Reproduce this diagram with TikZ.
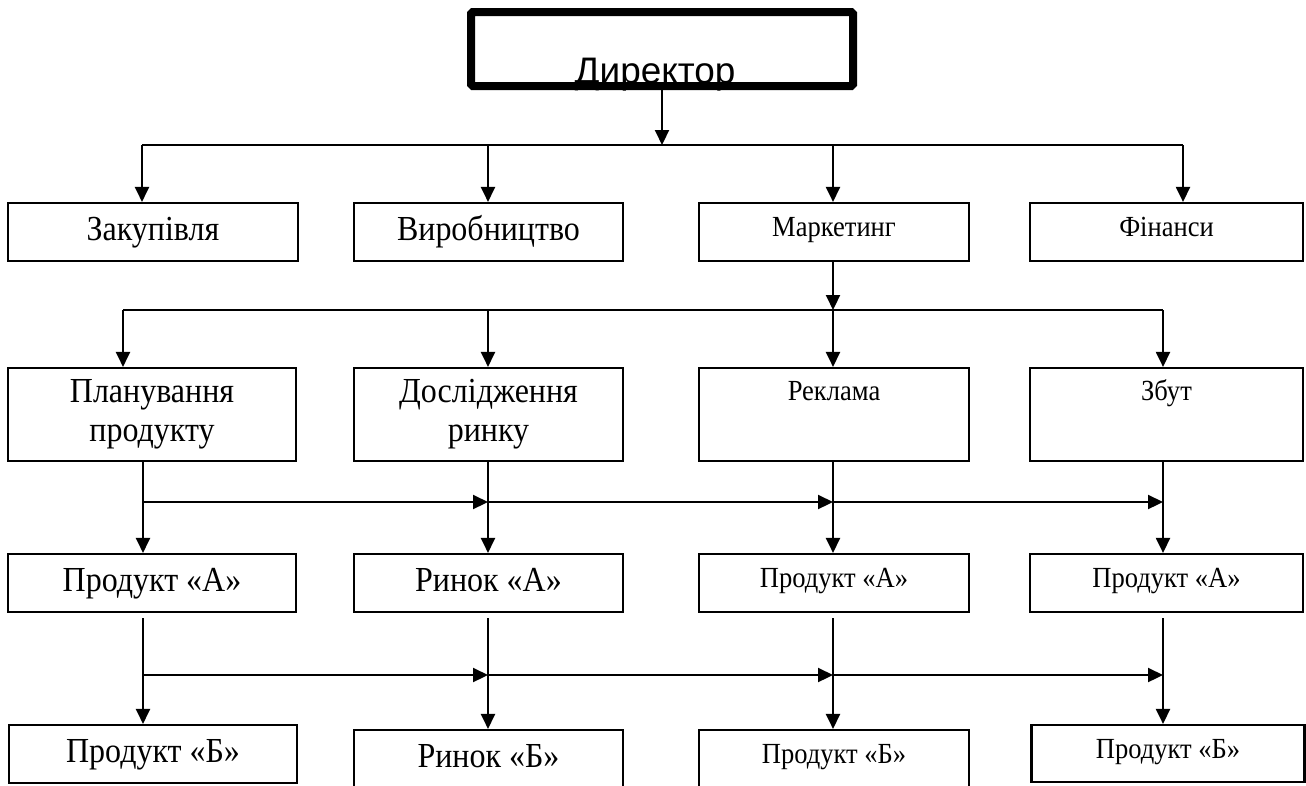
\documentclass[tikz,border=0pt]{standalone}
\usepackage{fontspec}
\setmainfont{Liberation Serif}[FakeStretch=0.91]
\newfontfamily\arialfont{Liberation Sans}
\usepackage{tikz}
\usetikzlibrary{arrows.meta,positioning}

\begin{document}
\begin{tikzpicture}[
  box/.style={rectangle, draw, line width=0.6pt, inner sep=0pt,
              minimum height=0.58cm, font=\fontsize{10}{11.1}\selectfont, align=center,
              text height=0.66em, text depth=0.07cm},
  sbox/.style={box, font=\fontsize{8.3}{10}\selectfont, text depth=0.14cm},
  tbox/.style={box, minimum height=0.93cm, text height=, text depth=},
  dirbox/.style={rectangle, draw, line width=0.08cm, rounded corners=0.5pt,
                 minimum width=3.82cm, minimum height=0.74cm},
  txt/.style={inner sep=0pt, font=\fontsize{8.3}{10}\selectfont,
              text height=0.66em, text depth=0pt},
  ln/.style={line width=0.6pt},
  arr/.style={-{Triangle[length=0.15cm,width=0.14cm]}, line width=0.6pt}
]
\useasboundingbox (0,0) rectangle (13.06,-7.85);
\clip (0,0) rectangle (13.06,-7.85);
% director
\node[anchor=base, inner sep=0pt, font=\arialfont\fontsize{10.5}{12}\selectfont] (dirname) at (6.55,-0.83) {Директор};
\node[dirbox] (dir) at (6.62,-0.49) {};
% row 1
\node[box, minimum width=2.90cm] (buy)  at (1.53,-2.32)  {Закупівля};
\node[box, minimum width=2.69cm] (make) at (4.885,-2.32) {Виробництво};
\node[sbox, minimum width=2.70cm] (mkt) at (8.34,-2.32)  {Маркетинг};
\node[sbox, minimum width=2.73cm] (fin) at (11.665,-2.32){Фінанси};
% row 2
\node[tbox, minimum width=2.88cm] (plan) at (1.52,-4.145) {Планування\\продукту};
\node[tbox, minimum width=2.69cm] (res)  at (4.885,-4.145){Дослідження\\ринку};
\node[tbox, minimum width=2.70cm] (adv)  at (8.34,-4.145) {};
\node[tbox, minimum width=2.73cm] (sale) at (11.665,-4.145){};
\node[txt, below=0.10cm of adv.north]  (advname)  {Реклама};
\node[txt, below=0.10cm of sale.north] (salename) {Збут};
% row 3
\node[box, minimum width=2.88cm]  (pa1) at (1.52,-5.83)   {Продукт «А»};
\node[box, minimum width=2.69cm]  (ma)  at (4.885,-5.83)  {Ринок «А»};
\node[sbox, minimum width=2.70cm] (pa3) at (8.34,-5.83)   {Продукт «А»};
\node[sbox, minimum width=2.73cm] (pa4) at (11.665,-5.83) {Продукт «А»};
% row 4
\node[box, minimum width=2.88cm]  (pb1) at (1.53,-7.54)   {Продукт «Б»};
\node[box, minimum width=2.69cm]  (mb)  at (4.885,-7.59)  {Ринок «Б»};
\node[sbox, minimum width=2.70cm] (pb3) at (8.34,-7.59)   {Продукт «Б»};
\node[sbox, minimum width=2.73cm, minimum height=0.57cm] (pb4) at (11.68,-7.535) {Продукт «Б»};
% bus under director
\coordinate (b1) at (6.62,-1.45);
\coordinate (t1) at (1.42,-1.45);  \coordinate (t2) at (4.88,-1.45);
\coordinate (t3) at (8.33,-1.45);  \coordinate (t4) at (11.83,-1.45);
\draw[arr] (b1 |- dir.south) -- (b1);
\draw[ln] (t1) -- (t4);
\draw[arr] (t1) -- (t1 |- buy.north);
\draw[arr] (t2) -- (t2 |- make.north);
\draw[arr] (t3) -- (t3 |- mkt.north);
\draw[arr] (t4) -- (t4 |- fin.north);
% bus under marketing
\coordinate (b2) at (8.33,-3.10);
\coordinate (u1) at (1.23,-3.10);  \coordinate (u2) at (4.88,-3.10);
\coordinate (u4) at (11.63,-3.10);
\draw[arr] (b2 |- mkt.south) -- (b2);
\draw[ln] (u1) -- (u4);
\draw[arr] (u1) -- (u1 |- plan.north);
\draw[arr] (u2) -- (u2 |- res.north);
\draw[arr] (b2) -- (b2 |- adv.north);
\draw[arr] (u4) -- (u4 |- sale.north);
% links row 2 -> row 3
\coordinate (v1) at (1.43,-5.02);  \coordinate (v2) at (4.88,-5.02);
\coordinate (v3) at (8.33,-5.02);  \coordinate (v4) at (11.63,-5.02);
\draw[arr] (v1 |- plan.south) -- (v1 |- pa1.north);
\draw[arr] (v2 |- res.south)  -- (v2 |- ma.north);
\draw[arr] (v3 |- adv.south)  -- (v3 |- pa3.north);
\draw[arr] (v4 |- sale.south) -- (v4 |- pa4.north);
\draw[arr] (v1) -- (v2);
\draw[arr] (v2) -- (v3);
\draw[arr] (v3) -- (v4);
% links row 3 -> row 4
\coordinate (w1) at (1.43,-6.75);  \coordinate (w2) at (4.88,-6.75);
\coordinate (w3) at (8.33,-6.75);  \coordinate (w4) at (11.63,-6.75);
\draw[arr] ([yshift=-0.05cm]w1 |- pa1.south) -- (w1 |- pb1.north);
\draw[arr] ([yshift=-0.05cm]w2 |- ma.south)  -- (w2 |- mb.north);
\draw[arr] ([yshift=-0.05cm]w3 |- pa3.south) -- (w3 |- pb3.north);
\draw[arr] ([yshift=-0.05cm]w4 |- pa4.south) -- (w4 |- pb4.north);
\draw[arr] (w1) -- (w2);
\draw[arr] (w2) -- (w3);
\draw[arr] (w3) -- (w4);
\end{tikzpicture}
\end{document}
